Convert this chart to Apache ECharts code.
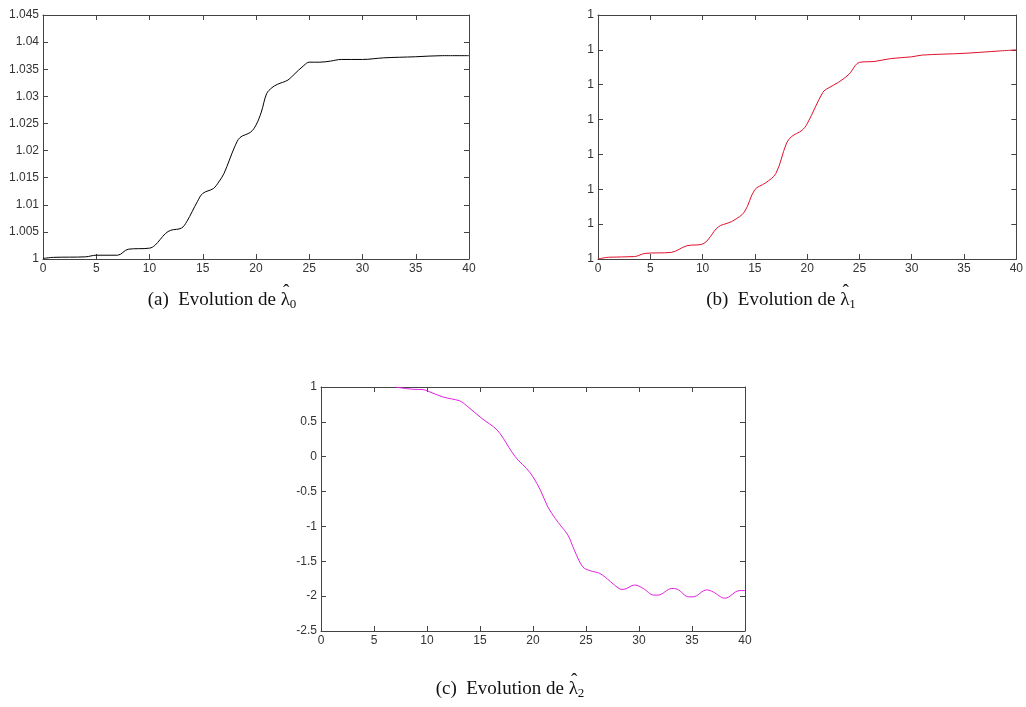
<!DOCTYPE html>
<html>
<head>
<meta charset="utf-8">
<script src="https://cdn.jsdelivr.net/npm/echarts@6/dist/echarts.min.js"></script>
<style>html,body{margin:0;padding:0;background:#fff}#c{width:1026px;height:707px}</style>
</head>
<body>
<div id="c"></div>
<script>
// x (time) values
const xA = [0,1,4,5,7,8,10,10.5,11.5,12,13,13.5,14.5,15,16,16.5,17,18,18.5,19.5,20,20.5,21,21.5,22,23,23.5,24.5,25,26,27,28,30,32,35,37.5,40];
const lambda0 = [1.0001,1.0003,1.0004,1.0007,1.0007,1.0018,1.002,1.0025,1.0047,1.0053,1.0057,1.0069,1.0106,1.0121,1.013,1.0142,1.0158,1.0207,1.0224,1.0234,1.0247,1.0271,1.0305,1.0316,1.0322,1.033,1.0339,1.0357,1.0363,1.0363,1.0365,1.0368,1.0368,1.0371,1.0373,1.0375,1.0375];

const xB = [0,1,3.5,4.5,7,8.5,10,11.5,12.5,13,14,15,16,17,18,18.5,19.5,20,21.5,22,23,24,25,26.5,28,30,31,35,37.5,40];
// lambda1 values (all display as "1" at 4 significant digits)
const lambda1 = [1.00000,1.0000005,1.0000007,1.0000016,1.0000019,1.0000038,1.0000043,1.0000092,1.0000104,1.0000111,1.0000135,1.0000199,1.0000218,1.0000245,1.000033,1.0000351,1.0000369,1.0000388,1.0000478,1.000049,1.0000507,1.000053,1.0000564,1.0000567,1.0000575,1.000058,1.0000585,1.000059,1.0000595,1.00006];

const xC = [7,8.1,8.7,9.65,10.1,11.5,13.1,13.7,15.2,16.3,16.9,18,18.6,19.4,20,20.7,21.4,22.1,22.7,23.3,23.9,24.7,25.4,26.3,27.3,28.1,28.5,29.6,30.4,31.4,31.8,33.1,33.6,34.7,35.1,36.4,37,38.1,39.5,40];
const lambda2 = [1.0,0.976,0.967,0.962,0.94,0.857,0.80,0.737,0.546,0.427,0.331,0.069,-0.05,-0.17,-0.29,-0.48,-0.72,-0.886,-1.006,-1.125,-1.34,-1.58,-1.636,-1.674,-1.79,-1.89,-1.904,-1.84,-1.89,-1.985,-1.985,-1.89,-1.90,-2.01,-2.01,-1.91,-1.94,-2.03,-1.92,-1.92];

const xTicks = {min:0, max:40, interval:5};
const yTicksA = {min:1, max:1.045, interval:0.005};
const yTicksB = {min:1, max:1.00007, interval:0.00001};
const yTicksC = {min:-2.5, max:1, interval:0.5};

const captionPrefix = ['(a)  Evolution de ', '(b)  Evolution de ', '(c)  Evolution de '];
const captionSymbol = 'λ';
const captionSub = ['0', '1', '2'];

const zip = (xs, ys) => xs.map((x,i)=>[x, ys[i]]);
const axisCol = '#444';
const lblStyle = {fontFamily:'Liberation Sans, Arial, sans-serif', fontSize:12, color:'#333'};

function fmtY(v){ return String(+(+v).toPrecision(4)); }

const grids = [
  {left:43, top:15, width:426, height:244},
  {left:598, top:15, width:423, height:244},
  {left:321, top:387, width:424, height:244}
];
const yScales = [yTicksA, yTicksB, yTicksC];

const xAxis = [], yAxis = [];
grids.forEach((g, i) => {
  xAxis.push({type:'value', gridIndex:i, position:'bottom', ...xTicks,
    axisLine:{show:true, onZero:false, lineStyle:{color:axisCol, width:1}},
    axisTick:{show:true, inside:true, length:5, lineStyle:{color:axisCol}},
    axisLabel:{...lblStyle, margin:4, showMinLabel:true, showMaxLabel:true},
    splitLine:{show:false}});
  xAxis.push({type:'value', gridIndex:i, position:'top', ...xTicks,
    axisLine:{show:true, onZero:false, lineStyle:{color:axisCol, width:1}},
    axisTick:{show:true, inside:true, length:5, lineStyle:{color:axisCol}},
    axisLabel:{show:false}, splitLine:{show:false}});
  yAxis.push({type:'value', gridIndex:i, position:'left', ...yScales[i],
    axisLine:{show:true, onZero:false, lineStyle:{color:axisCol, width:1}},
    axisTick:{show:true, inside:true, length:5, lineStyle:{color:axisCol}},
    axisLabel:{...lblStyle, margin:4, formatter:fmtY, showMinLabel:true, showMaxLabel:true},
    splitLine:{show:false}});
  yAxis.push({type:'value', gridIndex:i, position:'right', ...yScales[i],
    axisLine:{show:true, onZero:false, lineStyle:{color:axisCol, width:1}},
    axisTick:{show:true, inside:true, length:5, lineStyle:{color:axisCol}},
    axisLabel:{show:false}, splitLine:{show:false}});
});

const series = [
  {type:'line', xAxisIndex:0, yAxisIndex:0, data:zip(xA, lambda0), color:'#000000'},
  {type:'line', xAxisIndex:2, yAxisIndex:2, data:zip(xB, lambda1), color:'#e0102a'},
  {type:'line', xAxisIndex:4, yAxisIndex:4, data:zip(xC, lambda2), color:'#e020e0'}
].map(s => ({...s, smooth:0.35, showSymbol:false, clip:true, lineStyle:{width:1, color:s.color}, animation:false}));

// caption layout via text measurement
const serif = 'Liberation Serif, Times New Roman, serif';
const mctx = document.createElement('canvas').getContext('2d');
function tw(t, size){ mctx.font = size + 'px ' + serif; return mctx.measureText(t).width; }
const capPos = [[222, 300], [781, 300], [510, 689]];
const mainSize = 19, subSize = 13;
const graphic = [];
captionPrefix.forEach((p, i) => {
  const wp = tw(p, mainSize), wl = tw(captionSymbol, mainSize), ws = tw(captionSub[i], subSize);
  const x0 = capPos[i][0] - (wp + wl + ws) / 2;
  const y = capPos[i][1];
  const base = {fontFamily:serif, fill:'#111', textVerticalAlign:'middle', verticalAlign:'middle'};
  graphic.push({type:'text', x:x0, y:y, style:{...base, text:p, fontSize:mainSize, align:'left'}});
  graphic.push({type:'text', x:x0 + wp, y:y, style:{...base, text:captionSymbol, fontSize:mainSize, align:'left'}});
  graphic.push({type:'text', x:x0 + wp + wl/2 + 1, y:y - 8, style:{...base, text:'ˆ', fontSize:mainSize, align:'center'}});
  graphic.push({type:'text', x:x0 + wp + wl, y:y + 5, style:{...base, text:captionSub[i], fontSize:subSize, align:'left'}});
});

const chart = echarts.init(document.getElementById('c'));
chart.setOption({animation:false, grid:grids, xAxis, yAxis, series, graphic});
</script>
</body>
</html>
